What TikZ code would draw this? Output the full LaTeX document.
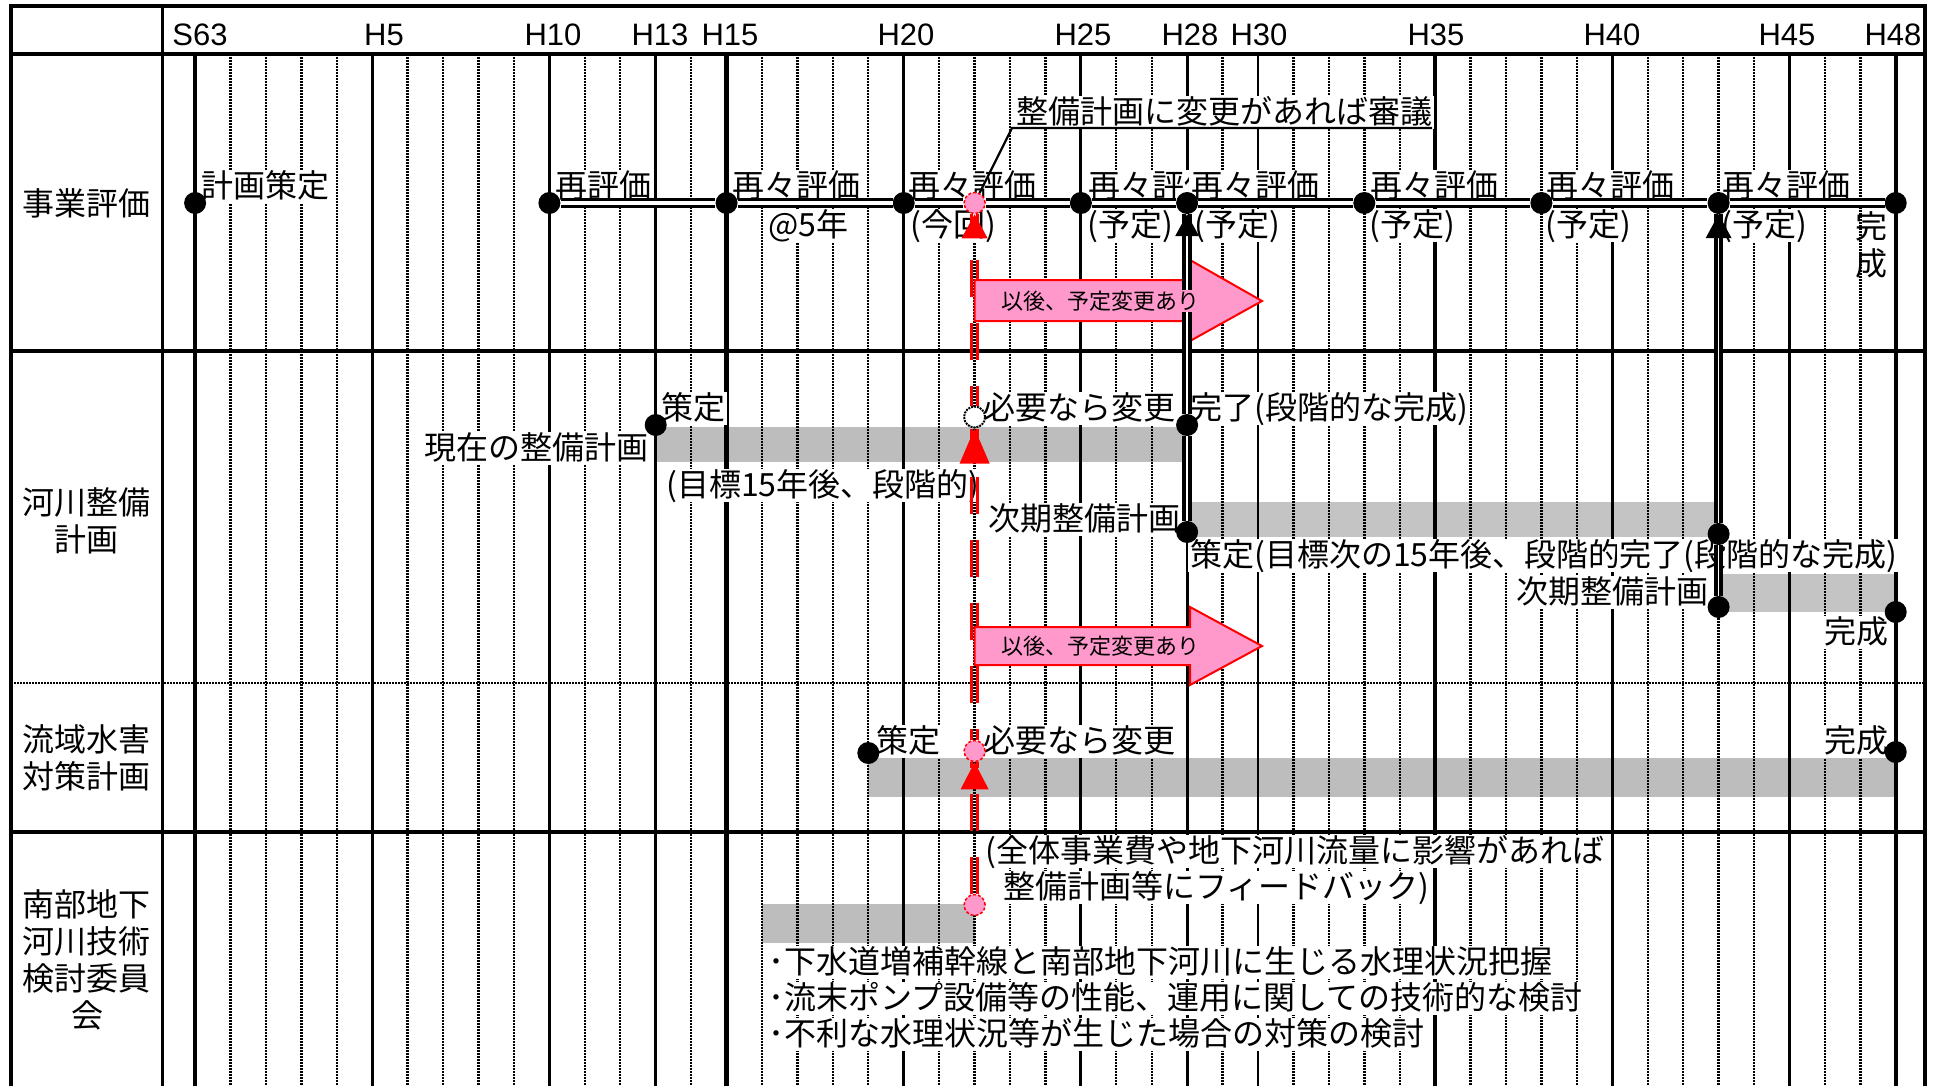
\documentclass[tikz,border=0pt]{standalone}
\usepackage{fontspec}
\setmainfont{Noto Sans CJK JP}
\newfontfamily\latfont{Liberation Sans}
\usetikzlibrary{arrows.meta,calc}
\definecolor{pinkf}{HTML}{FF99CC}
\definecolor{bargray}{HTML}{BDBDBD}
\definecolor{barhatch}{HTML}{C4C4C4}
\newcommand\myjp{\fontsize{32}{37}\selectfont}
\newcommand\mysm{\fontsize{22}{26}\selectfont}
\newcommand\myhd{\latfont\fontsize{31}{36}\selectfont}
\tikzset{
  jt/.style={font=\myjp, fill=white, inner sep=2pt, text height=26pt, text depth=3pt, anchor=west},
  hdr/.style={font=\myhd, inner sep=0pt, anchor=base},
  lbl/.style={font=\myjp, align=center, inner sep=0pt},
  bdot/.style={circle, fill=black, inner sep=0pt, minimum size=22pt},
  pdot/.style={circle, fill=pinkf, draw=red, densely dashed, line width=1.5pt, inner sep=0pt, minimum size=21pt},
  wdot/.style={circle, fill=white, draw=black, densely dotted, line width=2pt, inner sep=0pt, minimum size=21pt},
  gdot/.style={line width=2.4pt, dash pattern=on 1.5pt off 1.5pt},
  gsol/.style={line width=2.8pt},
  gthk/.style={line width=4.5pt},
  tline/.style={line width=4pt},
  rowdot/.style={line width=2.5pt, dash pattern=on 1.5pt off 1.5pt},
  divl/.style={line width=3pt},
  tmline/.style={draw=black, line width=3pt, double=white, double distance=4pt},
  shaftline/.style={draw=black, line width=4pt, double=white, double distance=1.5pt},
  rdash/.style={draw=red, line width=3.2pt, dash pattern=on 37pt off 26pt},
  pinkarr/.style={fill=pinkf, draw=red, line width=2pt, line join=miter},
  pinktext/.style={font=\mysm, inner sep=1pt, fill=pinkf},
  leader/.style={line width=2.2pt},
}
\begin{document}
\begin{tikzpicture}[x=1pt,y=-1pt]
\useasboundingbox (0,0) rectangle (1937,1085);
\clip (0,0) rectangle (1937,1085);
\fill[white] (0,0) rectangle (1937,1085);

% bars
\fill[bargray] (655.7,427) rectangle (1187.1,462);
\fill[barhatch] (1187.1,502) rectangle (1718.6,537);
\fill[barhatch] (1718.6,574) rectangle (1895.7,612);
\fill[bargray] (868.3,758) rectangle (1895.7,797);
\fill[bargray] (762.0,904) rectangle (974.6,943);

% grid
\foreach \n in {1,2,3,4,6,7,8,9,11,12,14,16,17,18,19,21,22,23,24,26,27,29,31,32,33,34,36,37,38,39,41,42,43,44,46,47}
  \draw[gdot] ({195.1+35.43*\n},54) -- ({195.1+35.43*\n},1090);
\foreach \n in {5,10,13,20,25,28,30,40,45}
  \draw[gsol] ({195.1+35.43*\n},54) -- ({195.1+35.43*\n},1090);
\foreach \n in {0,15,35,48}
  \draw[gthk] ({195.1+35.43*\n},54) -- ({195.1+35.43*\n},1090);

% table
\draw[tline] (11,54) -- (1925,54);
\draw[tline] (11,351) -- (1925,351);
\draw[rowdot] (11,683) -- (1925,683);
\draw[tline] (11,832) -- (1925,832);
\draw[divl] (162,6) -- (162,1100);
\draw[tline] (11,1100) -- (11,6) -- (1925,6) -- (1925,1100);

% header
\node[hdr] (hS63) at (200,45) {S63};
\node[hdr] (hH5) at (384,45) {H5};
\node[hdr] (hH10) at (553,45) {H10};
\node[hdr] (hH13) at (660,45) {H13};
\node[hdr] (hH15) at (730,45) {H15};
\node[hdr] (hH20) at (906,45) {H20};
\node[hdr] (hH25) at (1083,45) {H25};
\node[hdr] (hH28) at (1190,45) {H28};
\node[hdr] (hH30) at (1259,45) {H30};
\node[hdr] (hH35) at (1436,45) {H35};
\node[hdr] (hH40) at (1612,45) {H40};
\node[hdr] (hH45) at (1787,45) {H45};
\node[hdr] (hH48) at (1893,45) {H48};

% row labels
\node[lbl] (l1) at (87,203) {事業評価};
\node[lbl] (l2) at (87,521) {河川整備\\計画};
\node[lbl] (l3) at (87,758) {流域水害\\対策計画};
\node[lbl] (l4) at (87,960) {南部地下\\河川技術\\検討委員\\会};

% row 1 texts
\node[jt] (t1) at (199,186) {計画策定};
\node[jt] (t2) at (553,186) {再評価};
\node[jt] (t3) at (730,186) {再々評価};
\node[jt] (t4) at (766,225) {@5年};
\node[jt] (t5) at (906,186) {再々評価};
\node[jt] (t6) at (908,225) {(今回)};
\node[jt] (t7) at (1086,186) {再々評価};
\node[jt] (t8) at (1085,225) {(予定)};
\node[jt] (t9) at (1189,186) {再々評価};
\node[jt] (t10) at (1192,225) {(予定)};
\node[jt] (t11) at (1368,186) {再々評価};
\node[jt] (t12) at (1367,225) {(予定)};
\node[jt] (t13) at (1544,186) {再々評価};
\node[jt] (t14) at (1543,225) {(予定)};
\node[jt] (t15) at (1720,186) {再々評価};
\node[jt] (t16) at (1719,225) {(予定)};
\node[lbl] (t17) at (1871,245) {完\\成};
\node[jt] (t18) at (1014,112) {整備計画に変更があれば審議};

% row 2 texts
\node[jt] (t20) at (659,408) {策定};
\node[jt, anchor=east] (t21) at (651,448) {現在の整備計画};
\node[jt] (t22) at (664,485) {(目標15年後、段階的)};
\node[jt] (t23) at (981,408) {必要なら変更};
\node[jt] (t24) at (1188,408) {完了(段階的な完成)};
\node[jt, anchor=east] (t25) at (1183,519) {次期整備計画};
\node[jt] (t26) at (1188,555) {策定(目標次の15年後、段階的};
\node[jt] (t27) at (1617,555) {完了(段階的な完成)};
\node[jt, anchor=east] (t28) at (1711,592) {次期整備計画};
\node[jt] (t29) at (1822,632) {完成};

% row 3 texts
\node[jt] (t30) at (874,741) {策定};
\node[jt] (t31) at (981,741) {必要なら変更};
\node[jt] (t32) at (1822,741) {完成};

% row 4 texts
\node[jt] (t33) at (983,851) {(全体事業費や地下河川流量に影響があれば};
\node[jt] (t34) at (1001,887) {整備計画等にフィードバック)};
\node[jt] (t35) at (766,962) {･下水道増補幹線と南部地下河川に生じる水理状況把握};
\node[jt] (t36) at (766,998) {･流末ポンプ設備等の性能、運用に関しての技術的な検討};
\node[jt] (t37) at (766,1034) {･不利な水理状況等が生じた場合の対策の検討};

% dots row 1
\node[bdot] (e0) at (195.1,203) {};
\node[bdot] (e10) at (549.4,203) {};
\node[bdot] (e15) at (726.55,203) {};
\node[bdot] (e20) at (903.7,203) {};
\node[pdot] (p1) at (974.6,203) {};
\node[bdot] (e25) at (1080.9,203) {};
\node[bdot] (e28) at (1187.1,203) {};
\node[bdot] (e33) at (1364.3,203) {};
\node[bdot] (e38) at (1541.4,203) {};
\node[bdot] (e43) at (1718.6,203) {};
\node[bdot] (e48) at (1895.7,203) {};
% dots row 2
\node[bdot] (d13) at (655.7,425) {};
\node[wdot] (p2) at (974.6,417) {};
\node[bdot] (d28a) at (1187.1,425) {};
\node[bdot] (d28b) at (1187.1,532) {};
\node[bdot] (d43a) at (1718.6,534) {};
\node[bdot] (d43b) at (1718.6,607) {};
\node[bdot] (d48) at (1895.7,612) {};
% dots row 3
\node[bdot] (f19) at (868.3,753) {};
\node[pdot] (p3) at (974.6,751) {};
\node[bdot] (f48) at (1895.7,752) {};
% dot row 4
\node[pdot] (p4) at (974.6,905) {};

% timeline
\draw[tmline] (e10) -- (e15) -- (e20) -- (p1) -- (e25) -- (e28) -- (e33) -- (e38) -- (e43) -- (e48);

% leader to annotation
\coordinate (lead) at (1012,128);
\coordinate (uend) at (1432,128);
\draw[leader] (p1) -- (lead) -- (uend);

% red dashed links
\draw[rdash, dash phase=0pt, transform canvas={xshift=-3.2pt}] (p4) -- (p3);
\draw[rdash, dash phase=0pt, transform canvas={xshift=3.2pt}] (p4) -- (p3);
\draw[rdash, dash phase=26.5pt, transform canvas={xshift=-3.2pt}] (p3) -- (p2);
\draw[rdash, dash phase=26.5pt, transform canvas={xshift=3.2pt}] (p3) -- (p2);
\draw[rdash, dash phase=17.5pt, transform canvas={xshift=-3.2pt}] (p2) -- (p1);
\draw[rdash, dash phase=17.5pt, transform canvas={xshift=3.2pt}] (p2) -- (p1);
\fill[red] (p3.south) -- ++(-14,27) -- ++(28,0) -- cycle;
\fill[red] (p2.south) -- ++(-15,35) -- ++(30,0) -- cycle;
\fill[red] (p1.south) -- ++(-13,24) -- ++(26,0) -- cycle;

% pink block arrows
\draw[pinkarr] (974.6,280) -- (1190,280) -- (1190,260) -- (1262,301) -- (1190,341) -- (1190,321) -- (974.6,321) -- cycle;
\draw[pinkarr] (974.6,627) -- (1190,627) -- (1190,607) -- (1262,646) -- (1190,685) -- (1190,665) -- (974.6,665) -- cycle;

% black arrows
\draw[shaftline] (d28b) -- (d28a);
\draw[shaftline] (d28a) -- (e28);
\fill[black] (e28.south) -- ++(-12,22) -- ++(24,0) -- cycle;
\draw[shaftline] (d43b) -- (d43a);
\draw[shaftline] (d43a) -- (e43);
\fill[black] (e43.south) -- ++(-13,24) -- ++(26,0) -- cycle;

% texts in pink arrows
\node[pinktext] (a1) at (1100,301) {以後、予定変更あり};
\node[pinktext] (a2) at (1100,646) {以後、予定変更あり};
\end{tikzpicture}
\end{document}
